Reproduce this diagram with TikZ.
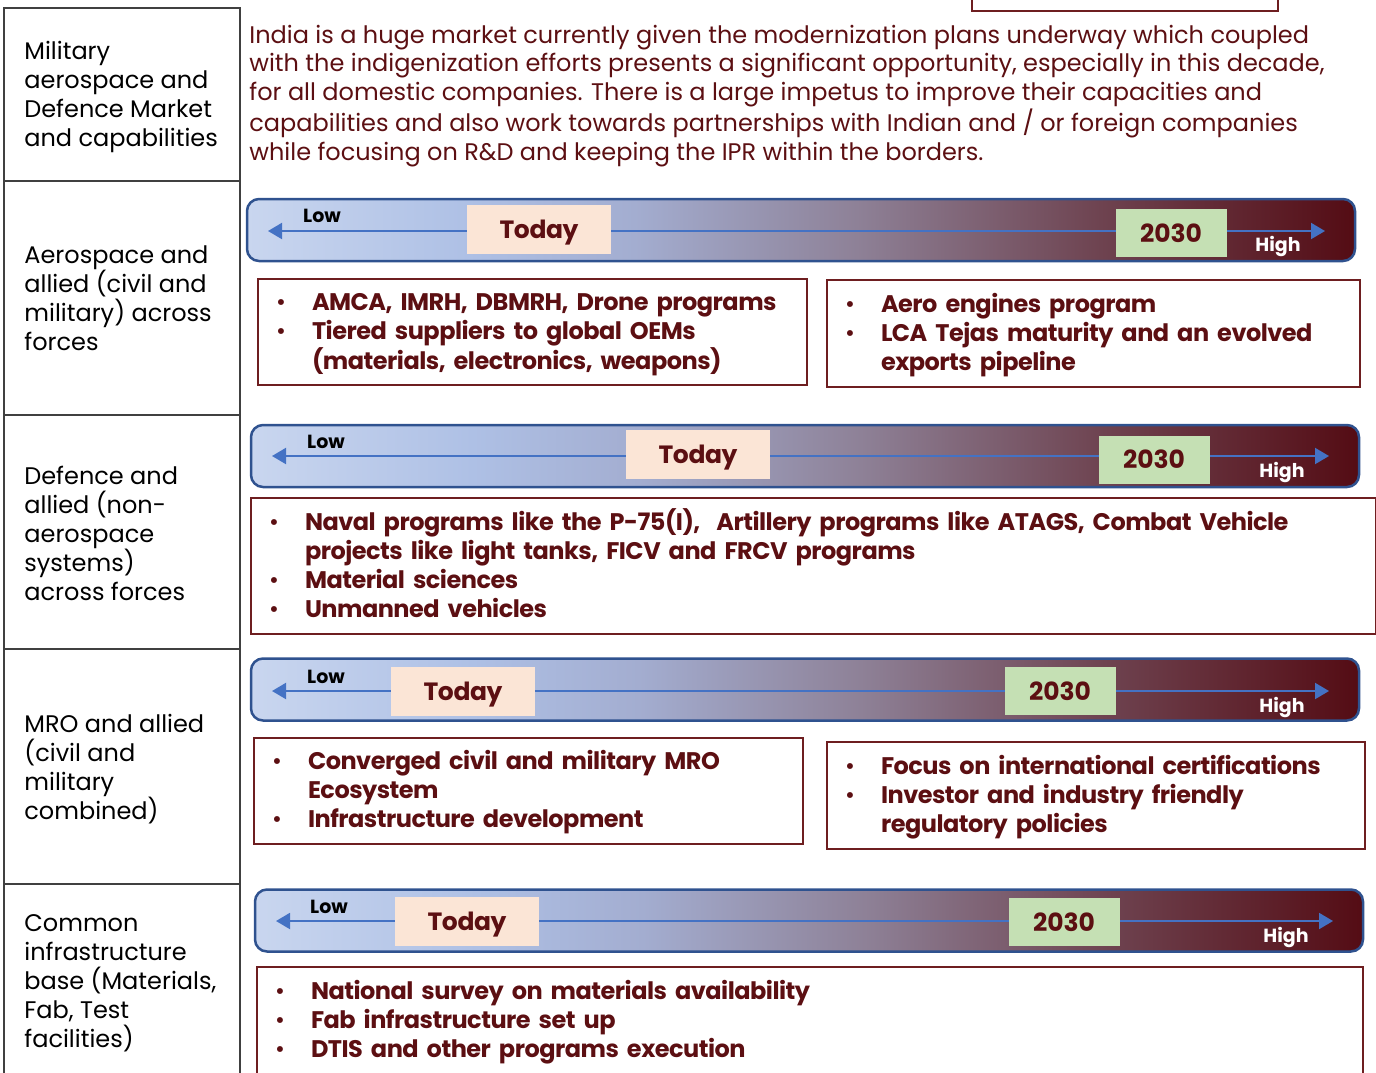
\documentclass[tikz,border=0pt]{standalone}
\usepackage{fontspec}
\setmainfont{Poppins}
\usetikzlibrary{arrows.meta}

\definecolor{txtred}{HTML}{5C0F12}
\definecolor{boxred}{HTML}{6E1E20}
\definecolor{barblue}{HTML}{2F528F}
\definecolor{arrowblue}{HTML}{4472C4}
\definecolor{todayfill}{HTML}{FBE5D6}
\definecolor{yearfill}{HTML}{C5E0B4}
\definecolor{gridline}{HTML}{404040}
\definecolor{sh0}{HTML}{C9D6EF}
\definecolor{sh1}{HTML}{AEC0E5}
\definecolor{sh2}{HTML}{A3ADD0}
\definecolor{sh3}{HTML}{8E8197}
\definecolor{sh4}{HTML}{6E4350}
\definecolor{sh5}{HTML}{540C14}

% left-to-right blend of the maturity bars
\pgfdeclarehorizontalshading{barshade}{100bp}{color(0bp)=(sh0); color(25bp)=(sh0);
  color(35bp)=(sh1); color(42.5bp)=(sh2); color(52.5bp)=(sh3); color(63.5bp)=(sh4);
  color(75bp)=(sh5); color(100bp)=(sh5)}

\newcommand{\itm}{{\mdseries\textbullet}}
% extra height above the first bullet line, so the list sits a little lower in its box
\newcommand{\firstpad}{\rule{0pt}{12.2pt}}

\tikzset{
  rowlabel/.style={anchor=north west, inner sep=0pt, align=left, text=black,
    font=\fontsize{12}{14.5}\selectfont, execute at begin node=\strut},
  intro/.style={rowlabel, text=txtred, font=\fontsize{12}{14.4}\selectfont},
  bar/.style={draw=barblue, line width=1.25pt, rounded corners=6pt, shading=barshade,
    minimum width=554pt, minimum height=31pt, inner sep=0pt},
  todaybox/.style={fill=todayfill, text=txtred, inner sep=0pt, text depth=0pt,
    font=\bfseries\fontsize{12.5}{14}\selectfont\addfontfeatures{LetterSpace=-1.5},
    minimum width=72pt, minimum height=24.5pt},
  yearbox/.style={fill=yearfill, text=txtred, inner sep=0pt,
    font=\bfseries\fontsize{12.5}{14}\selectfont, minimum width=55.5pt, minimum height=24pt},
  lowlbl/.style={inner sep=0pt, text=black, font=\bfseries\fontsize{9.5}{11}\selectfont},
  highlbl/.style={inner sep=0pt, text=white, font=\bfseries\fontsize{9.5}{11}\selectfont},
  scale arrow/.style={draw=arrowblue, line width=1pt,
    {Triangle[length=7pt,width=8pt]}-{Triangle[length=7pt,width=8pt]}},
  itembox/.style={draw=boxred, line width=1pt, anchor=north west, inner ysep=0pt,
    inner xsep=9pt, align=left, text=txtred,
    font=\bfseries\fontsize{12}{14.5}\selectfont\addfontfeatures{LetterSpace=-2.1}},
  grid/.style={draw=gridline, line width=0.6pt}
}

\begin{document}
\begin{tikzpicture}[x=0.5pt,y=-0.5pt]
\useasboundingbox (0,0) rectangle (1376,1072);
\clip (0,0) rectangle (1376,1072);

% left-hand column of row headings
\draw[grid] (4,1080) -- (4,8) -- (240,8) -- (240,1080);
\foreach \yy in {181,415,649,884} \draw[grid] (4,\yy) -- (240,\yy);

\node[rowlabel] (lab1) at (24,41) {Military\\aerospace and\\Defence Market\\and capabilities};
\node[rowlabel] (lab2) at (24,245.5) {Aerospace and\\allied (civil and\\military) across\\forces};
\node[rowlabel] (lab3) at (24,465.5) {Defence and\\allied (non-\\aerospace\\systems)\\across forces};
\node[rowlabel] (lab4) at (24,713.5) {MRO and allied\\(civil and\\military\\combined)};
\node[rowlabel] (lab5) at (24,914) {Common\\infrastructure\\base (Materials,\\Fab, Test\\facilities)};

% box at the top edge
\node[draw=boxred, line width=1pt, anchor=south west, minimum width=153pt, minimum height=20pt,
  inner sep=0pt] (topbox) at (971,12) {};

% introduction
\node[intro] (introtext) at (249,24.5) {India is a huge market currently given the modernization plans underway which coupled\\
with the indigenization efforts presents a significant opportunity, especially in this decade,\\
for all domestic companies. There is a large impetus to improve their capacities and\\
capabilities and also work towards partnerships with Indian and / or foreign companies\\
while focusing on R\&D and keeping the IPR within the borders.};

% ---------- row 2: aerospace ----------
\node[bar] (bar1) at (801,230) {};
\coordinate (b1l) at (268,231);
\coordinate (b1r) at (1325,231);
\draw[scale arrow] (b1l) -- (b1r);
\node[todaybox] (today1) at (539,229.5) {Today};
\node[yearbox] (year1) at (1171,233) {2030};
\node[lowlbl] (low1) at (322,216) {Low};
\node[highlbl] (high1) at (1278,246) {High};

\node[itembox, minimum width=274.5pt, minimum height=53pt, text width=256.5pt] (box1a) at (257,278)
  {\begin{tabular}{@{}p{18pt}@{}l@{}}
   \itm\firstpad & AMCA, IMRH, DBMRH, Drone programs\\
   \itm & Tiered suppliers to global OEMs\\
        & (materials, electronics, weapons)
   \end{tabular}};
\node[itembox, minimum width=266.5pt, minimum height=53.5pt, text width=248.5pt] (box1b) at (826,279)
  {\begin{tabular}{@{}p{18pt}@{}l@{}}
   \itm\firstpad & Aero engines program\\
   \itm & LCA Tejas maturity and an evolved\\
        & exports pipeline
   \end{tabular}};

% ---------- row 3: defence ----------
\node[bar] (bar2) at (805,456) {};
\coordinate (b2l) at (272,456);
\coordinate (b2r) at (1329,456);
\draw[scale arrow] (b2l) -- (b2r);
\node[todaybox] (today2) at (698,454.5) {Today};
\node[yearbox] (year2) at (1154,459.5) {2030};
\node[lowlbl] (low2) at (326,442) {Low};
\node[highlbl] (high2) at (1282,472) {High};

\node[itembox, minimum width=562.5pt, minimum height=68pt, text width=544.5pt] (box2) at (250,497)
  {\begin{tabular}{@{}p{18pt}@{}l@{}}
   \itm\firstpad & Naval programs like the P-75(I), \ Artillery programs like ATAGS, Combat Vehicle\\
        & projects like light tanks, FICV and FRCV programs\\
   \itm & Material sciences\\
   \itm & Unmanned vehicles
   \end{tabular}};

% ---------- row 4: MRO ----------
\node[bar] (bar3) at (805,689.5) {};
\coordinate (b3l) at (272,691);
\coordinate (b3r) at (1329,691);
\draw[scale arrow] (b3l) -- (b3r);
\node[todaybox] (today3) at (463,691) {Today};
\node[yearbox] (year3) at (1060,691) {2030};
\node[lowlbl] (low3) at (326,677) {Low};
\node[highlbl] (high3) at (1282,707) {High};

\node[itembox, minimum width=274.5pt, minimum height=53pt, text width=256.5pt] (box3a) at (253,737)
  {\begin{tabular}{@{}p{18pt}@{}l@{}}
   \itm\firstpad & Converged civil and military MRO\\
        & Ecosystem\\
   \itm & Infrastructure development
   \end{tabular}};
\node[itembox, minimum width=269pt, minimum height=53.5pt, text width=251pt] (box3b) at (826,741)
  {\begin{tabular}{@{}p{18pt}@{}l@{}}
   \itm\firstpad & Focus on international certifications\\
   \itm & Investor and industry friendly\\
        & regulatory policies
   \end{tabular}};

% ---------- row 5: common infrastructure ----------
\node[bar] (bar4) at (809,920.5) {};
\coordinate (b4l) at (276,921);
\coordinate (b4r) at (1333,921);
\draw[scale arrow] (b4l) -- (b4r);
\node[todaybox] (today4) at (467,921) {Today};
\node[yearbox] (year4) at (1064,922) {2030};
\node[lowlbl] (low4) at (329,907) {Low};
\node[highlbl] (high4) at (1286,937) {High};

\node[itembox, minimum width=553pt, minimum height=53.5pt, text width=535pt] (box4) at (256,966)
  {\begin{tabular}{@{}p{18pt}@{}l@{}}
   \itm\firstpad & National survey on materials availability\\
   \itm & Fab infrastructure set up\\
   \itm & DTIS and other programs execution
   \end{tabular}};
\end{tikzpicture}
\end{document}
